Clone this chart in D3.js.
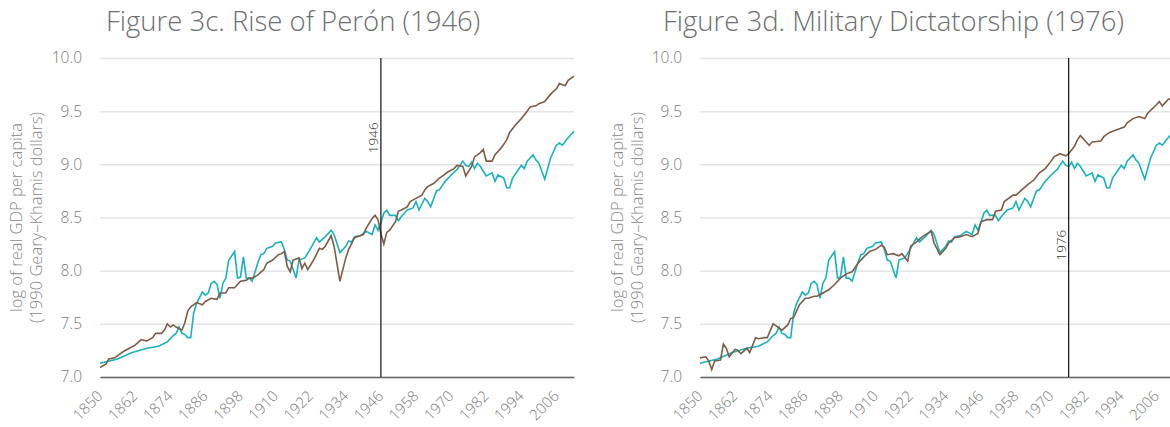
<!DOCTYPE html>
<html>
<head>
<meta charset="utf-8">
<script src="https://cdn.jsdelivr.net/npm/d3@7"></script>
<style>
  body { margin: 0; background: #fff; }
  svg { display: block; font-family: "Open Sans", Lato, sans-serif; font-weight: 300; }
  .grid line { stroke: #e4e4e4; stroke-width: 1.5; }
  .tick text { fill: #7c7c7c; font-family: "Open Sans", Lato, sans-serif; }
</style>
</head>
<body>
<div id="chart"></div>
<script>
// Argentina, log of real GDP per capita (teal) -- same in both panels
const argentina = [
  [1850,7.13],[1856,7.17],[1861,7.23],[1866,7.27],[1870,7.29],[1873,7.33],[1875,7.39],
  [1876,7.41],[1877,7.47],[1878,7.41],[1879,7.40],[1880,7.37],[1881,7.37],[1882,7.60],
  [1883,7.69],[1885,7.80],[1886,7.77],[1887,7.79],[1888,7.88],[1889,7.90],[1890,7.87],
  [1891,7.74],[1892,7.88],[1893,7.93],[1894,8.10],[1896,8.18],[1897,7.93],[1898,7.94],
  [1899,8.13],[1900,7.93],[1901,7.93],[1902,7.90],[1904,8.08],[1905,8.15],[1906,8.16],
  [1907,8.21],[1909,8.23],[1910,8.26],[1912,8.27],[1913,8.20],[1914,8.10],[1915,8.09],
  [1917,7.93],[1918,8.10],[1920,8.12],[1922,8.21],[1924,8.31],[1925,8.27],[1927,8.32],
  [1929,8.38],[1930,8.34],[1932,8.17],[1934,8.23],[1935,8.28],[1936,8.27],[1937,8.32],
  [1939,8.33],[1940,8.35],[1941,8.37],[1943,8.34],[1944,8.43],[1945,8.38],[1946,8.45],
  [1947,8.54],[1948,8.57],[1949,8.52],[1951,8.52],[1952,8.47],[1953,8.51],[1955,8.57],
  [1957,8.59],[1958,8.65],[1959,8.57],[1961,8.68],[1962,8.65],[1963,8.60],[1965,8.75],
  [1966,8.76],[1968,8.84],[1970,8.90],[1972,8.95],[1974,9.03],[1975,8.99],[1976,8.98],
  [1977,9.02],[1978,8.96],[1979,9.01],[1980,8.98],[1982,8.89],[1984,8.92],[1985,8.84],
  [1986,8.90],[1988,8.87],[1989,8.78],[1990,8.78],[1991,8.87],[1994,8.99],[1995,8.96],
  [1996,9.03],[1998,9.09],[1999,9.04],[2000,9.01],[2002,8.86],[2004,9.06],[2006,9.18],
  [2007,9.20],[2008,9.18],[2010,9.25],[2012,9.31]
];

// synthetic control, Perón (brown, panel c)
const synthPeron = [
  [1850,7.09],[1852,7.12],[1853,7.17],[1855,7.18],[1857,7.22],[1858,7.24],[1860,7.27],
  [1862,7.30],[1864,7.35],[1866,7.34],[1868,7.37],[1869,7.41],[1871,7.41],[1872,7.44],
  [1873,7.50],[1874,7.47],[1875,7.49],[1876,7.47],[1878,7.44],[1879,7.51],[1880,7.62],
  [1881,7.66],[1883,7.70],[1885,7.68],[1886,7.71],[1888,7.74],[1890,7.73],[1891,7.79],
  [1893,7.79],[1894,7.84],[1896,7.84],[1897,7.87],[1898,7.90],[1900,7.91],[1901,7.93],
  [1902,7.93],[1904,7.96],[1906,8.01],[1907,8.07],[1909,8.10],[1911,8.15],[1912,8.16],
  [1913,8.18],[1914,8.04],[1915,7.99],[1916,8.10],[1917,8.11],[1918,8.12],[1919,8.02],
  [1920,8.07],[1921,8.01],[1923,8.10],[1925,8.21],[1926,8.20],[1927,8.23],[1929,8.33],
  [1930,8.23],[1932,7.90],[1934,8.12],[1935,8.20],[1937,8.31],[1938,8.32],[1940,8.34],
  [1941,8.40],[1943,8.49],[1944,8.52],[1945,8.48],[1946,8.35],[1947,8.25],[1948,8.36],
  [1949,8.38],[1951,8.46],[1952,8.56],[1953,8.57],[1955,8.60],[1956,8.65],[1958,8.68],
  [1960,8.71],[1961,8.76],[1962,8.79],[1964,8.82],[1966,8.87],[1967,8.89],[1969,8.93],
  [1971,8.96],[1972,8.99],[1974,8.98],[1975,8.89],[1977,8.98],[1978,9.07],[1980,9.11],
  [1981,9.14],[1982,9.03],[1984,9.03],[1985,9.09],[1987,9.15],[1989,9.23],[1990,9.30],
  [1992,9.37],[1994,9.43],[1996,9.50],[1997,9.54],[1999,9.55],[2000,9.57],[2002,9.59],
  [2004,9.66],[2006,9.71],[2007,9.76],[2009,9.74],[2010,9.79],[2012,9.83]
];

// synthetic control, military dictatorship (brown, panel d)
const synthJunta = [
  [1850,7.18],[1852,7.19],[1853,7.15],[1854,7.07],[1855,7.15],[1857,7.16],[1858,7.31],
  [1859,7.27],[1860,7.19],[1862,7.26],[1863,7.25],[1864,7.22],[1866,7.27],[1867,7.23],
  [1869,7.37],[1870,7.36],[1872,7.37],[1873,7.37],[1875,7.50],[1876,7.48],[1878,7.44],
  [1880,7.49],[1881,7.55],[1882,7.56],[1884,7.68],[1886,7.74],[1887,7.74],[1889,7.76],
  [1890,7.76],[1892,7.79],[1894,7.82],[1896,7.87],[1898,7.93],[1900,7.97],[1902,7.99],
  [1904,8.07],[1906,8.13],[1908,8.18],[1910,8.20],[1912,8.24],[1913,8.22],[1914,8.15],
  [1916,8.16],[1918,8.14],[1919,8.16],[1921,8.09],[1922,8.23],[1924,8.27],[1926,8.32],
  [1929,8.37],[1930,8.26],[1932,8.15],[1934,8.21],[1935,8.26],[1937,8.31],[1939,8.32],
  [1941,8.34],[1943,8.32],[1945,8.35],[1946,8.46],[1948,8.48],[1950,8.48],[1951,8.56],
  [1953,8.57],[1954,8.65],[1957,8.71],[1958,8.71],[1960,8.76],[1962,8.81],[1964,8.85],
  [1966,8.92],[1968,8.96],[1970,9.03],[1971,9.07],[1973,9.10],[1974,9.09],[1975,9.08],
  [1976,9.10],[1978,9.17],[1979,9.23],[1980,9.27],[1982,9.21],[1983,9.18],[1984,9.21],
  [1987,9.22],[1988,9.26],[1990,9.30],[1992,9.32],[1995,9.35],[1996,9.39],[1998,9.43],
  [2000,9.45],[2002,9.43],[2003,9.48],[2006,9.56],[2007,9.59],[2008,9.55],[2010,9.61],
  [2012,9.63]
];

const titles = ["Figure 3c. Rise of Perón (1946)", "Figure 3d. Military Dictatorship (1976)"];
const eventYears = [1946, 1976];
const eventLabelAt = [9.25, 8.24]; // y value where the rotated year label sits
const yTicks = [7.0, 7.5, 8.0, 8.5, 9.0, 9.5, 10.0];
const xTicks = d3.range(1850, 2007, 12);
const yLabel = ["log of real GDP per capita", "(1990 Geary\u2013Khamis dollars)"];

const W = 1170, H = 427;
const plotW = 474, plotTop = 58, plotBottom = 377;

const svg = d3.select('#chart').append('svg')
    .attr('width', W)
    .attr('height', H);

const x = d3.scaleLinear().domain([1850, 2012]).range([0, plotW]);
const y = d3.scaleLinear().domain([7, 10]).range([plotBottom, plotTop]);

const line = d3.line()
    .x(d => x(d[0]))
    .y(d => y(d[1]));

const panels = [
  { left: 100, titleX: 106, labelX: 22, synth: synthPeron },
  { left: 700, titleX: 663, labelX: 623, synth: synthJunta }
];

panels.forEach((p, i) => {
  // title
  svg.append('text')
      .attr('x', p.titleX)
      .attr('y', 31)
      .attr('fill', '#6d6f71')
      .style('font-size', '27.5px')
      .text(titles[i]);

  // y axis label, two lines
  yLabel.forEach((t, j) => {
    svg.append('text')
        .attr('transform', 'translate(' + (p.labelX + j * 20) + ',' + ((plotTop + plotBottom) / 2) + ') rotate(-90)')
        .attr('text-anchor', 'middle')
        .attr('fill', '#8a8a8a')
        .style('font-size', '16.5px')
        .text(t);
  });

  const g = svg.append('g')
      .attr('transform', 'translate(' + p.left + ',0)');

  // gridlines + y labels
  const yAxis = d3.axisLeft(y)
      .tickValues(yTicks)
      .tickFormat(d3.format('.1f'))
      .tickSize(-plotW)
      .tickPadding(18);

  g.append('g')
      .attr('class', 'grid')
      .call(yAxis)
      .call(s => s.select('.domain').remove())
      .call(s => s.selectAll('.tick text').style('font-size', '15.5px'));

  // x axis
  const xAxis = d3.axisBottom(x)
      .tickValues(xTicks)
      .tickFormat(d3.format('d'))
      .tickSize(0);

  g.append('g')
      .attr('transform', 'translate(0,' + plotBottom + ')')
      .call(xAxis)
      .call(s => s.select('.domain').attr('stroke', '#666').attr('stroke-width', 1.5))
      .selectAll('text')
        .style('font-size', '15px')
        .attr('text-anchor', 'end')
        .attr('x', 0).attr('y', 0).attr('dy', 0)
        .attr('transform', 'translate(3,20) rotate(-45)');

  // series
  g.append('path')
      .datum(argentina)
      .attr('fill', 'none')
      .attr('stroke', '#19b3bd')
      .attr('stroke-width', 1.6)
      .attr('d', line);

  g.append('path')
      .datum(p.synth)
      .attr('fill', 'none')
      .attr('stroke', '#7d5d47')
      .attr('stroke-width', 1.6)
      .attr('d', line);

  // event marker
  const ex = x(eventYears[i]);
  g.append('line')
      .attr('x1', ex).attr('x2', ex)
      .attr('y1', y(10)).attr('y2', y(7))
      .attr('stroke', '#111')
      .attr('stroke-width', 1.2);

  g.append('text')
      .attr('transform', 'translate(' + (ex - 3) + ',' + y(eventLabelAt[i]) + ') rotate(-90)')
      .attr('text-anchor', 'middle')
      .attr('fill', '#333')
      .style('font-size', '13.5px')
      .text(eventYears[i]);
});
</script>
</body>
</html>
